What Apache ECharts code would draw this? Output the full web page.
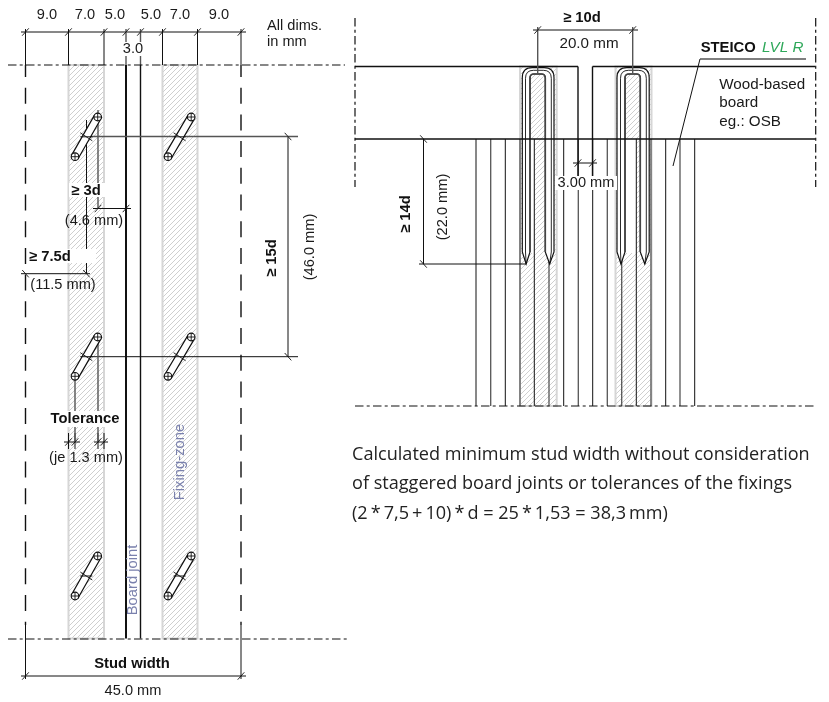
<!DOCTYPE html>
<html><head><meta charset="utf-8">
<style>html,body{margin:0;padding:0;background:#fff}#c{width:829px;height:702px}</style>
<script src="https://cdn.jsdelivr.net/npm/echarts@6/dist/echarts.min.js"></script>
</head><body><div id="c"></div>
<script>
// ---- drawing values, in drawing units ----
const fixingZones = [[68.5,65,104,638.5],[162.5,65,197.5,638.5],[520,66.5,556.7,406],[615.5,66.5,651.5,406]];
const blankStrips = [[530,139,534.3,253],[625,139,636.3,253]];
const thinLines = [
 [21,32,246,32],[25.5,29,25.5,65],[68.5,29,68.5,65],[104,29,104,65],[162.5,29,162.5,65],[197.5,29,197.5,65],[241,29,241,65],
 [21,676,246,676],[25.5,625,25.5,679],[241,625,241,679],
 [86.5,120,86.5,273.7],[93,208.5,131,208.5],[21,273.7,90,273.7],
 [90,356.7,298,356.7],[288,136.5,288,356.7],
 [64,442,80,442],[94,442,108,442],[68.5,433,68.5,449],[75,433,75,449],[98,433,98,449],[104,433,104,449],
 [533,30,638,30],[573,163,597,163],[423.5,139,423.5,264],[419,264,526,264],
 [700,59,673,166]
];
const greyLines = [
 [126,29,126,65],[140.5,29,140.5,65],[90,136.5,298,136.5],[98,110,98,208.5],[75,380,75,441],[98,338,98,441],
 [537.7,27,537.7,74],[632.7,27,632.7,74],[700,59,806,59]
];
const heavyLines = [[126,65,126,638.5],[140.5,65,140.5,638.5],[355,66.5,578,66.5],[592.5,66.5,815,66.5],[355,139,815,139],[578,66.5,578,176],[592.5,66.5,592.5,176]];
const dashedStudEdges = [[25.5,65,25.5,625],[241,65,241,625]];
const centreLines = [[8,65,345,65],[8,639,347,639],[355,18,355,187],[815.7,18,815.7,187],[355,406,815,406]];
const blackStudLines = [476,505.3,534.3,563.7,592.7,636.3,665.7,694.7];
const greyStudLines = [490.7,520,549,578.3,607.3,621.7,651,680];
const screws = [[75,156.7,97.7,117],[168,156.7,191.2,117],[75,376.3,97.7,337],[168,376.3,191.2,337],[75,596,97.7,556],[168,596,191.2,556]];
const screwMarks = [[86.3,136.8],[179.6,136.8],[86.3,356.7],[179.6,356.7],[86.3,576],[179.6,576]];
const staples = [[522.3,525.5,530,545.3,551.3,554],[617,620.5,625,640.3,646.3,649.2]];
const textMasks = [[69,183,105,197],[28,249,96,263],[49,411,121,427],[122,42,144,56],[555,176,617,190]];
const slashTicks = [[25.5,32],[68.5,32],[104,32],[126,32],[140.5,32],[162.5,32],[197.5,32],[241,32],[25.5,676],[241,676],[98,208.5],[126,208.5],
 [537.7,30],[632.7,30],[578,163],[592.5,163],[68.5,442],[75,442],[98,442],[104,442]];
const backTicks = [[288,136.5],[288,356.7],[423.5,139],[423.5,264],[25.5,273.7],[86.5,273.7]];
const labels = [
 ["9.0",47,15,"c",0],["7.0",85,15,"c",0],["5.0",115,15,"c",0],["5.0",151,15,"c",0],["7.0",180,15,"c",0],["9.0",219,15,"c",0],
 ["3.0",133,49,"c",0],["All dims.",267,26,"l",0],["in mm",267,42,"l",0],
 ["(4.6 mm)",94,221,"c",0],["(11.5 mm)",63,285,"c",0],["(je 1.3 mm)",86,458,"c",0],
 ["45.0 mm",133,691,"c",0],["(46.0 mm)",310,247,"c",90],["3.00 mm",586,183,"c",0],
 ["(22.0 mm)",443,207,"c",90]
];
const rightLabels = [["20.0 mm",589,44,"c",0],["Wood-based",719.3,85,"l",0],["board",719.3,103,"l",0],["eg.: OSB",719.3,122,"l",0]];
const boldLabels = [["≥ 3d",86,191,"c",0],["≥ 7.5d",29,257,"l",0],["≥ 15d",272,258,"c",90],["Tolerance",85,419,"c",0],["Stud width",132,664,"c",0],["≥ 10d",582,18,"c",0],["≥ 14d",406,214,"c",90],["STEICO",700.7,48,"l",0]];
const zoneLabels = [["Fixing-zone",180,462],["Board joint",133,580]];
const productLabels = [["LVL R",762,48]];
const noteLines = [
 ["Calculated minimum stud width without consideration",352,455],
 ["of staggered board joints or tolerances of the fixings",352,484],
 ["(2\u2009*\u20097,5\u2009+\u200910)\u2009*\u2009d = 25\u2009*\u20091,53 = 38,3\u2009mm)",352,514]
];
// ---- styles ----
const INK='#1a1a1a', SANS='"Liberation Sans",Arial,sans-serif';
const tile=document.createElement('canvas'); tile.width=tile.height=5;
(function(){const g=tile.getContext('2d');g.fillStyle='#fff';g.fillRect(0,0,5,5);g.strokeStyle='#cfcfcf';g.lineWidth=1;
 [[-5,5,5,-5],[0,5,5,0],[0,10,10,0]].forEach(function(s){g.beginPath();g.moveTo(s[0],s[1]);g.lineTo(s[2],s[3]);g.stroke();});})();
const base={type:'custom',coordinateSystem:'cartesian2d',silent:true,animation:false,clip:false};
function segSeries(rows,style,z){return Object.assign({},base,{z:z,data:rows,renderItem:function(p,api){
  const a=api.coord([api.value(0),api.value(1)]),b=api.coord([api.value(2),api.value(3)]);
  return {type:'line',shape:{x1:a[0],y1:a[1],x2:b[0],y2:b[1]},style:Object.assign({fill:null},style)};}});}
function rectSeries(rows,style,z){return Object.assign({},base,{z:z,data:rows,renderItem:function(p,api){
  const a=api.coord([api.value(0),api.value(1)]),b=api.coord([api.value(2),api.value(3)]);
  return {type:'rect',shape:{x:a[0],y:a[1],width:b[0]-a[0],height:b[1]-a[1]},style:style};}});}
function vSeries(xs,style,z){return segSeries(xs.map(function(x){return [x,139,x,406];}),style,z);}
function tickSeries(rows,sign,z){return segSeries(rows.map(function(t){return [t[0]-3.3,t[1]+sign*3.7,t[0]+3.3,t[1]-sign*3.7];}),{stroke:'#111',lineWidth:0.9},z);}
function textSeries(rows,font,colorOf,z){return Object.assign({},base,{z:z,data:rows.map(function(r){return [r[1],r[2]];}),renderItem:function(p,api){
  const r=rows[p.dataIndex],c=api.coord([r[1],r[2]]);
  return {type:'text',x:c[0],y:c[1],rotation:(r[4]||0)*Math.PI/180,style:{text:r[0],font:font,fill:colorOf,textAlign:r[3]==='l'?'left':'center',textVerticalAlign:'middle'}};}});}
function zoneSeries(){return Object.assign({},base,{z:1,data:fixingZones,renderItem:function(p,api){
  const a=api.coord([api.value(0),api.value(1)]),b=api.coord([api.value(2),api.value(3)]);
  return {type:'rect',shape:{x:a[0],y:a[1],width:b[0]-a[0],height:b[1]-a[1]},style:{fill:{image:tile,repeat:'repeat'},stroke:'#d6d6d6',lineWidth:2}};}});}
function stapleSeries(){return Object.assign({},base,{z:4,data:staples,renderItem:function(p,api){
  const v=[0,1,2,3,4,5].map(function(i){return api.value(i);});
  const Y=function(y){return api.coord([0,y])[1];},X=function(x){return api.coord([x,0])[0];};
  const o1=X(v[0]),m1=X(v[1]),i1=X(v[2]),i2=X(v[3]),m2=X(v[4]),o2=X(v[5]);
  const sh=Y(252),tip=Y(264),t0=Y(67.7),tm=Y(70.3),ti=Y(74),t1=(o1+i1)/2,t2=(i2+o2)/2;
  const U=function(l,r,t,rad){return 'L'+l+' '+(t+rad)+'Q'+l+' '+t+' '+(l+rad)+' '+t+'L'+(r-rad)+' '+t+'Q'+r+' '+t+' '+r+' '+(t+rad);};
  const outline='M'+t1+' '+tip+'L'+o1+' '+sh+U(o1,o2,t0,10)+'L'+o2+' '+sh+'L'+t2+' '+tip+'L'+i2+' '+sh+
    'L'+i2+' '+(ti+4)+'Q'+i2+' '+ti+' '+(i2-4)+' '+ti+'L'+(i1+4)+' '+ti+'Q'+i1+' '+ti+' '+i1+' '+(ti+4)+'L'+i1+' '+sh+'Z';
  const mid='M'+t1+' '+tip+'L'+m1+' '+sh+U(m1,m2,tm,8)+'L'+m2+' '+sh+'L'+t2+' '+tip;
  const inner='M'+i1+' '+sh+'L'+i1+' '+(ti+4)+'Q'+i1+' '+ti+' '+(i1+4)+' '+ti+'L'+(i2-4)+' '+ti+'Q'+i2+' '+ti+' '+i2+' '+(ti+4)+'L'+i2+' '+sh;
  return {type:'group',children:[
    {type:'path',shape:{pathData:outline},style:{fill:'#fff',stroke:'#111',lineWidth:1.2}},
    {type:'path',shape:{pathData:mid},style:{fill:null,stroke:'#111',lineWidth:0.9}},
    {type:'path',shape:{pathData:inner},style:{fill:null,stroke:'#444',lineWidth:1.6}}]};}});}
function screwSeries(){return Object.assign({},base,{z:6,data:screws,renderItem:function(p,api){
  const a=api.coord([api.value(0),api.value(1)]),b=api.coord([api.value(2),api.value(3)]);
  const dx=b[0]-a[0],dy=b[1]-a[1],L=Math.hypot(dx,dy),nx=-dy/L*3.7,ny=dx/L*3.7,R=3.8,st={stroke:'#111',lineWidth:0.9,fill:null};
  const kids=[{type:'polygon',shape:{points:[[a[0]+nx,a[1]+ny],[b[0]+nx,b[1]+ny],[b[0]-nx,b[1]-ny],[a[0]-nx,a[1]-ny]]},style:{fill:'#fff',stroke:'#111',lineWidth:1.2}}];
  [a,b].forEach(function(c){
    kids.push({type:'circle',shape:{cx:c[0],cy:c[1],r:R},style:{fill:'#fff',stroke:'#111',lineWidth:1.2}});
    kids.push({type:'line',shape:{x1:c[0]-R,y1:c[1],x2:c[0]+R,y2:c[1]},style:st});
    kids.push({type:'line',shape:{x1:c[0],y1:c[1]-R,x2:c[0],y2:c[1]+R},style:st});
  });
  return {type:'group',children:kids};}});}
const chart=echarts.init(document.getElementById('c'),null,{renderer:'canvas'});
chart.setOption({
 animation:false,backgroundColor:'#fff',tooltip:{show:false},
 grid:{left:0,right:0,top:0,bottom:0},
 xAxis:{type:'value',min:0,max:829,show:false},
 yAxis:{type:'value',min:0,max:702,inverse:true,show:false},
 series:[
  zoneSeries(),
  rectSeries(blankStrips,{fill:'#fff'},2),
  vSeries(blackStudLines,{stroke:'#111',lineWidth:1},3),
  vSeries(greyStudLines,{stroke:'#555',lineWidth:1.3},3),
  stapleSeries(),
  segSeries(heavyLines.slice(0,1),{stroke:'#111',lineWidth:2},5),
  segSeries(heavyLines.slice(1),{stroke:'#111',lineWidth:1.4},5),
  segSeries(thinLines,{stroke:'#111',lineWidth:1},5),
  segSeries(greyLines,{stroke:'#555',lineWidth:1.4},5),
  segSeries(dashedStudEdges,{stroke:'#111',lineWidth:1.4,lineDash:[16,10.7],lineDashOffset:4},5),
  segSeries(centreLines,{stroke:'#111',lineWidth:1.2,lineDash:[8.5,3.2,3,3.3]},5),
  screwSeries(),
  segSeries(screwMarks.map(function(m){return [m[0]-6,m[1],m[0]+6,m[1]];}),{stroke:'#111',lineWidth:1},7),
  segSeries(screwMarks.map(function(m){return [m[0]-6,m[1]-4,m[0]+6,m[1]+4];}),{stroke:'#111',lineWidth:0.9},7),
  rectSeries(textMasks,{fill:'#fff'},8),
  tickSeries(slashTicks,1,9),
  tickSeries(backTicks,-1,9),
  textSeries(labels,'14.6px '+SANS,INK,10),
  textSeries(rightLabels,'15.2px '+SANS,INK,10),
  textSeries(boldLabels,'bold 14.8px '+SANS,'#111',10),
  textSeries(zoneLabels.map(function(r){return [r[0],r[1],r[2],'c',90];}),'14.8px '+SANS,'#7a81ad',10),
  textSeries(productLabels.map(function(r){return [r[0],r[1],r[2],'l',0];}),'italic 15.2px '+SANS,'#2fa85a',10),
  textSeries(noteLines.map(function(r){return [r[0],r[1],r[2],'l',0];}),'18.1px "Open Sans",sans-serif','#222',10)
 ]
});
</script></body></html>
